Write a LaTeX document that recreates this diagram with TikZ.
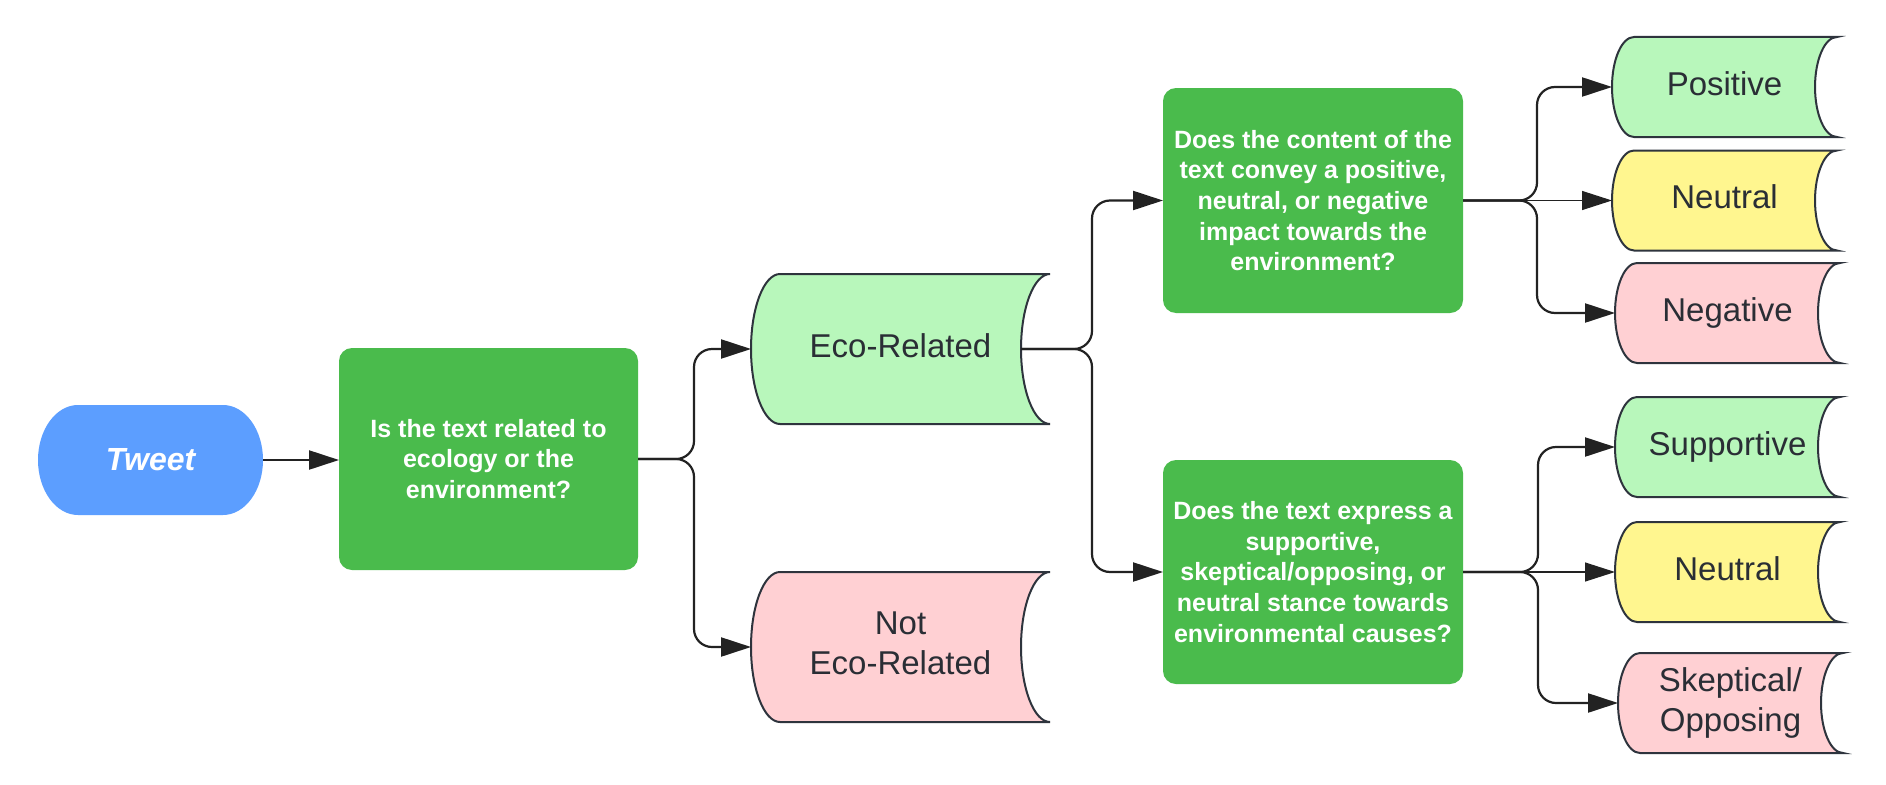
\documentclass[tikz,border=0pt]{standalone}
\usepackage{fontspec}
\setmainfont{Liberation Sans}
\usetikzlibrary{arrows.meta,backgrounds}
\definecolor{tweetblue}{HTML}{5C9EFF}
\definecolor{qgreen}{HTML}{4ABB4C}
\definecolor{lgreen}{HTML}{B8F7BB}
\definecolor{lyellow}{HTML}{FFF68F}
\definecolor{lpink}{HTML}{FFD0D3}
\definecolor{edgecol}{HTML}{2E343D}
\definecolor{arrowcol}{HTML}{222222}
\definecolor{labeltext}{HTML}{2A2E35}
\tikzset{
  qbox/.style={fill=qgreen, rounded corners=13pt, minimum width=299pt, inner sep=0pt, outer sep=0pt,
    text=white, font=\fontsize{25pt}{30.7pt}\selectfont\bfseries, align=center},
  res/.style={inner sep=0pt, outer sep=0pt, text=labeltext, text depth=7pt,
    font=\fontsize{33pt}{40pt}\selectfont, align=center},
  smallres/.style={res, minimum width=225pt, minimum height=100pt},
  bigres/.style={res, minimum width=299pt, minimum height=150pt},
  outline/.style={draw=edgecol, line width=2pt},
  conn/.style={draw=arrowcol, line width=2.2pt, rounded corners=18pt, -{Triangle[length=30pt,width=19pt]}},
  thinconn/.style={draw=arrowcol, line width=1.2pt, -{Triangle[length=30pt,width=19pt]}},
}
% stored-data outline: node name, fill, depth, half height
\newcommand\sdshape[4]{%
  \filldraw[outline, fill=#2] ([xshift=#3]#1.north west) -- (#1.north east)
    arc[start angle=90, end angle=270, x radius=#3, y radius=#4]
    -- ([xshift=#3]#1.south west)
    arc[start angle=270, end angle=90, x radius=#3, y radius=#4] -- cycle;}
\begin{document}
\begin{tikzpicture}[x=1pt,y=-1pt]
\useasboundingbox (0,0) rectangle (1886,784);

% nodes
\node[inner sep=0pt, outer sep=0pt, minimum width=225pt, minimum height=110pt,
  text=white, font=\fontsize{32pt}{38pt}\selectfont\bfseries\itshape] (tweet) at (150.5,460) {Tweet};
\node[qbox, minimum height=222pt] (box1) at (488.5,459) {Is the text related to\\ecology or the\\environment?};
\node[bigres] (eco) at (900.5,349) {Eco-Related};
\node[bigres] (noteco) at (900.5,647) {Not\\Eco-Related};
\node[qbox, minimum width=300pt, minimum height=225pt] (box2) at (1313,200.5)
  {Does the content of the\\text convey a positive,\\neutral, or negative\\impact towards the\\environment?};
\node[qbox, minimum width=300pt, minimum height=224pt] (box3) at (1313,572)
  {Does the text express a\\supportive,\\skeptical/opposing, or\\neutral stance towards\\environmental causes?};
\node[smallres] (pos) at (1724.5,87) {Positive};
\node[smallres] (neu1) at (1724.5,200.5) {Neutral};
\node[smallres] (neg) at (1727.5,313) {Negative};
\node[smallres] (sup) at (1727.5,447) {Supportive};
\node[smallres] (neu2) at (1727.5,572) {Neutral};
\node[smallres] (skep) at (1730.5,703) {Skeptical/\\Opposing};

% shapes behind the texts
\begin{scope}[on background layer]
  \fill[white] (0,0) rectangle (1886,784);
  \fill[tweetblue] ([xshift=40pt]tweet.north west) -- ([xshift=-40pt]tweet.north east)
    arc[start angle=90, end angle=-90, x radius=40pt, y radius=55pt]
    -- ([xshift=40pt]tweet.south west)
    arc[start angle=270, end angle=90, x radius=40pt, y radius=55pt] -- cycle;
  \sdshape{eco}{lgreen}{29pt}{75pt}
  \sdshape{noteco}{lpink}{29pt}{75pt}
  \sdshape{pos}{lgreen}{22pt}{50pt}
  \sdshape{neu1}{lyellow}{22pt}{50pt}
  \sdshape{neg}{lpink}{22pt}{50pt}
  \sdshape{sup}{lgreen}{22pt}{50pt}
  \sdshape{neu2}{lyellow}{22pt}{50pt}
  \sdshape{skep}{lpink}{22pt}{50pt}
\end{scope}

% junction points
\path (box1.east) ++(56,0) coordinate (j1);
\path ([xshift=-29pt]eco.east) ++(71,0) coordinate (j2);
\path (box2.east) ++(74,0) coordinate (j3);
\path (box3.east) ++(75,0) coordinate (j4);

% connectors
\draw[conn] (tweet.east) -- (box1.west |- tweet.east);
\draw[conn] (box1.east) -- (j1) |- (eco.west);
\draw[conn] (box1.east) -- (j1) |- (noteco.west);
\draw[conn] ([xshift=-29pt]eco.east) -- (j2) |- (box2.west);
\draw[conn] ([xshift=-29pt]eco.east) -- (j2) |- (box3.west);
\draw[conn] (box2.east) -- (j3) |- (pos.west);
\draw[thinconn] (box2.east) -- (neu1.west);
\draw[conn] (box2.east) -- (j3) |- (neg.west);
\draw[conn] (box3.east) -- (j4) |- (sup.west);
\draw[thinconn] (box3.east) -- (neu2.west);
\draw[conn] (box3.east) -- (j4) |- (skep.west);
\end{tikzpicture}
\end{document}
